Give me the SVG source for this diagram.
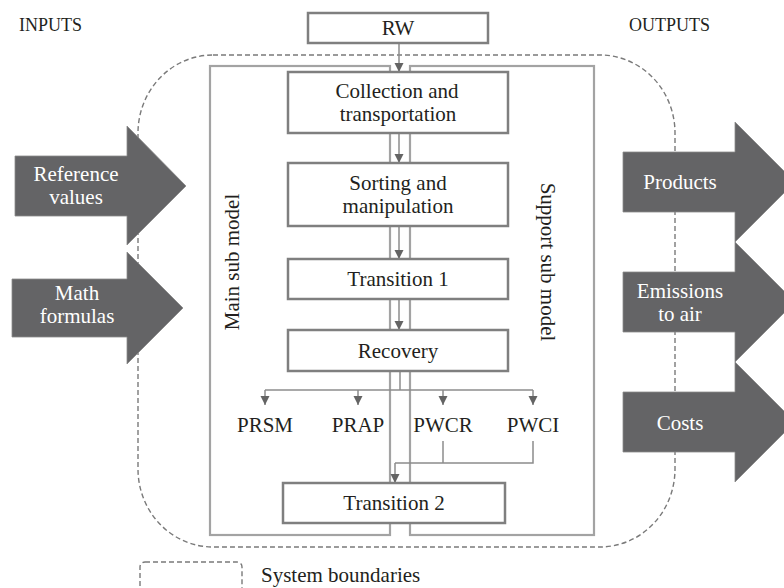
<svg xmlns="http://www.w3.org/2000/svg" width="784" height="588" viewBox="0 0 784 588">
  <style>
    .lbl { font-family: "Liberation Serif", "Times New Roman", serif; font-size: 21px; fill: #231f20; text-anchor: middle; }
    .head { font-family: "Liberation Serif", "Times New Roman", serif; font-size: 18px; fill: #231f20; }
    .wlbl { font-family: "Liberation Serif", "Times New Roman", serif; font-size: 21px; fill: #ffffff; text-anchor: middle; }
    .box { fill: #ffffff; stroke: #7f7f7f; stroke-width: 2.5; }
    .frame { fill: none; stroke: #a3a3a3; stroke-width: 2.2; }
    .bound { fill: none; stroke: #7a7a7a; stroke-width: 1.4; stroke-dasharray: 5 3; }
    .flow { fill: #646466; stroke: #8a8a8a; stroke-width: 0.8; }
    .conn { fill: none; stroke: #8c8c8c; stroke-width: 1.5; }
  </style>
  <defs>
    <marker id="ah" markerWidth="10" markerHeight="10" refX="9" refY="5" orient="auto" markerUnits="userSpaceOnUse">
      <path d="M0,0.5 L9,5 L0,9.5 Z" fill="#646464"/>
    </marker>
  </defs>

  <rect width="784" height="588" fill="#ffffff"/>

  <!-- column headings -->
  <text class="head" x="19" y="31">INPUTS</text>
  <text class="head" x="629" y="31">OUTPUTS</text>

  <!-- system boundary -->
  <rect id="system-boundary" class="bound" x="138" y="55" width="537" height="492" rx="75" ry="78"/>

  <!-- sub model frames -->
  <g id="main-sub-model">
    <rect class="frame" x="210" y="66" width="180" height="469"/>
    <text class="lbl" transform="translate(239,262) rotate(-90)">Main sub model</text>
  </g>
  <g id="support-sub-model">
    <rect class="frame" x="410" y="66" width="184" height="469"/>
    <text class="lbl" transform="translate(541,262) rotate(90)">Support sub model</text>
  </g>

  <!-- input arrows -->
  <g id="in-reference-values">
    <path class="flow" d="M15,156 H127 V126 L186,186 L127,245 V216 H15 Z"/>
    <text class="wlbl" x="76" y="181">Reference</text>
    <text class="wlbl" x="76" y="204">values</text>
  </g>
  <g id="in-math-formulas">
    <path class="flow" d="M12,279 H127 V252 L183,308 L127,364 V337 H12 Z"/>
    <text class="wlbl" x="77" y="300">Math</text>
    <text class="wlbl" x="77" y="323">formulas</text>
  </g>

  <!-- output arrows -->
  <g id="out-products">
    <path class="flow" d="M623,152 H735 V122 L795,182 L735,242 V212 H623 Z"/>
    <text class="wlbl" x="680" y="189">Products</text>
  </g>
  <g id="out-emissions">
    <path class="flow" d="M623,272 H735 V242 L795,302 L735,362 V332 H623 Z"/>
    <text class="wlbl" x="680" y="298">Emissions</text>
    <text class="wlbl" x="680" y="321">to air</text>
  </g>
  <g id="out-costs">
    <path class="flow" d="M623,392 H735 V362 L795,422 L735,482 V452 H623 Z"/>
    <text class="wlbl" x="680" y="430">Costs</text>
  </g>

  <!-- connectors -->
  <g id="connectors">
    <line class="conn" x1="399" y1="43" x2="399" y2="72" marker-end="url(#ah)"/>
    <line class="conn" x1="399" y1="133" x2="399" y2="163" marker-end="url(#ah)"/>
    <line class="conn" x1="399" y1="226" x2="399" y2="259" marker-end="url(#ah)"/>
    <line class="conn" x1="399" y1="299" x2="399" y2="330" marker-end="url(#ah)"/>
    <polyline class="conn" points="400,371 400,390"/>
    <polyline class="conn" points="265,390 533,390"/>
    <line class="conn" x1="265" y1="390" x2="265" y2="405" marker-end="url(#ah)"/>
    <line class="conn" x1="358" y1="390" x2="358" y2="405" marker-end="url(#ah)"/>
    <line class="conn" x1="443" y1="390" x2="443" y2="405" marker-end="url(#ah)"/>
    <line class="conn" x1="533" y1="390" x2="533" y2="405" marker-end="url(#ah)"/>
    <polyline class="conn" points="443,441 443,463"/>
    <polyline class="conn" points="533,441 533,463 395,463"/>
    <line class="conn" x1="395" y1="463" x2="395" y2="483" marker-end="url(#ah)"/>
  </g>

  <!-- process nodes -->
  <g id="rw">
    <rect class="box" x="308" y="13" width="180" height="30"/>
    <text class="lbl" x="398" y="35">RW</text>
  </g>
  <g id="collection">
    <rect class="box" x="288" y="72" width="220" height="61"/>
    <text class="lbl" x="397" y="98">Collection and</text>
    <text class="lbl" x="398" y="121">transportation</text>
  </g>
  <g id="sorting">
    <rect class="box" x="288" y="163" width="220" height="63"/>
    <text class="lbl" x="398" y="190">Sorting and</text>
    <text class="lbl" x="398" y="213">manipulation</text>
  </g>
  <g id="transition-1">
    <rect class="box" x="288" y="259" width="220" height="40"/>
    <text class="lbl" x="398" y="286">Transition 1</text>
  </g>
  <g id="recovery">
    <rect class="box" x="288" y="330" width="220" height="41"/>
    <text class="lbl" x="398" y="358">Recovery</text>
  </g>
  <g id="prsm"><text class="lbl" x="265" y="432">PRSM</text></g>
  <g id="prap"><text class="lbl" x="358" y="432">PRAP</text></g>
  <g id="pwcr"><text class="lbl" x="443" y="432">PWCR</text></g>
  <g id="pwci"><text class="lbl" x="533" y="432">PWCI</text></g>
  <g id="transition-2">
    <rect class="box" x="283" y="483" width="222" height="40"/>
    <text class="lbl" x="394" y="510">Transition 2</text>
  </g>

  <!-- legend -->
  <g id="legend">
    <rect class="bound" x="140" y="562" width="102" height="40" rx="5"/>
    <text class="lbl" x="261" y="582" style="text-anchor:start">System boundaries</text>
  </g>
</svg>
